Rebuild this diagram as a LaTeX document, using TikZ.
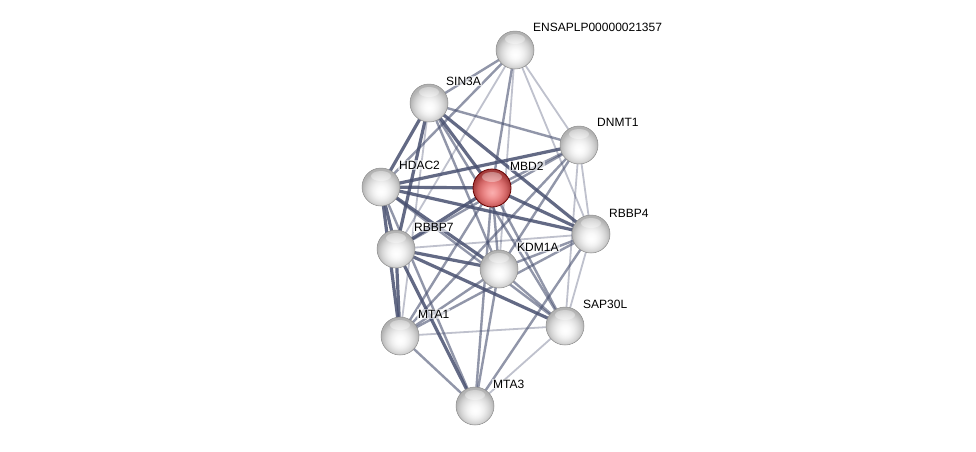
\documentclass[tikz,border=0pt]{standalone}
\usepackage{fontspec}
\setmainfont{Liberation Sans}
\usetikzlibrary{shadings}
\definecolor{edgecol}{RGB}{72,80,112}
\pgfdeclareradialshading{wball}{\pgfpoint{0bp}{-6bp}}{%
  color(0bp)=(white); color(6bp)=(white!98!black); color(11bp)=(white!94!black);
  color(15bp)=(white!89!black); color(19bp)=(white!83!black); color(22bp)=(white!77!black); color(25bp)=(white!70!black); color(50bp)=(white!70!black)}
\pgfdeclareradialshading{rball}{\pgfpoint{0bp}{-6bp}}{%
  color(0bp)=(rgb,255:red,250;green,175;blue,175); color(6bp)=(rgb,255:red,244;green,155;blue,155);
  color(11bp)=(rgb,255:red,234;green,134;blue,134); color(15bp)=(rgb,255:red,222;green,116;blue,116);
  color(19bp)=(rgb,255:red,205;green,97;blue,97); color(22bp)=(rgb,255:red,185;green,78;blue,78); color(25bp)=(rgb,255:red,165;green,60;blue,60); color(50bp)=(rgb,255:red,165;green,60;blue,60)}
\tikzset{
  x=1pt,y=-1pt,
  ball/.style={circle,minimum size=38pt,inner sep=0pt,shading=wball,draw=black!45,line width=0.5pt},
  redball/.style={circle,minimum size=38pt,inner sep=0pt,shading=rball,draw=red!40!black,line width=0.8pt},
  hilite/.style={fill=white,opacity=0.35},
  lab/.style={anchor=west,font=\fontsize{12}{13}\selectfont,inner sep=1pt,text=black,fill=white,fill opacity=0.6,text opacity=1},
  estrong/.style={draw=edgecol,line width=3.2pt,opacity=0.85},
  emed/.style={draw=edgecol,line width=2.4pt,opacity=0.6},
  eweak/.style={draw=edgecol,line width=1.8pt,opacity=0.35},
}
\begin{document}
\begin{tikzpicture}
\useasboundingbox[fill=white] (0,0) rectangle (976,451);
% node positions
\coordinate (pENS) at (515,50);
\coordinate (pSIN) at (429,103);
\coordinate (pDNM) at (579,145);
\coordinate (pHDA) at (381,187);
\coordinate (pMBD) at (492,188);
\coordinate (pRB7) at (396,249);
\coordinate (pRB4) at (591,234);
\coordinate (pKDM) at (499,269);
\coordinate (pMT1) at (400,336);
\coordinate (pSAP) at (565,326);
\coordinate (pMT3) at (475,406);
% edges
\begin{scope}
\path[emed] (pENS) -- (pSIN);
\path[emed] (pENS) -- (pHDA);
\path[emed] (pENS) -- (pMBD);
\path[eweak] (pENS) -- (pKDM);
\path[eweak] (pENS) -- (pDNM);
\path[eweak] (pENS) -- (pRB4);
\path[eweak] (pENS) -- (pRB7);
\path[estrong] (pSIN) -- (pHDA);
\path[estrong] (pSIN) -- (pRB7);
\path[estrong] (pSIN) -- (pMBD);
\path[emed] (pSIN) -- (pDNM);
\path[emed] (pSIN) -- (pKDM);
\path[estrong] (pSIN) -- (pRB4);
\path[emed] (pSIN) -- (pSAP);
\path[eweak] (pSIN) -- (pMT1);
\path[estrong] (pHDA) -- (pMBD);
\path[estrong] (pHDA) -- (pDNM);
\path[estrong] (pHDA) -- (pRB4);
\path[estrong] (pHDA) -- (pRB7);
\path[estrong] (pHDA) -- (pKDM);
\path[estrong] (pHDA) -- (pMT1);
\path[emed] (pHDA) -- (pMT3);
\path[emed] (pHDA) -- (pSAP);
\path[emed] (pMBD) -- (pDNM);
\path[estrong] (pMBD) -- (pRB4);
\path[estrong] (pMBD) -- (pRB7);
\path[emed] (pMBD) -- (pKDM);
\path[emed] (pMBD) -- (pMT1);
\path[emed] (pMBD) -- (pMT3);
\path[emed] (pMBD) -- (pSAP);
\path[eweak] (pDNM) -- (pRB4);
\path[emed] (pDNM) -- (pRB7);
\path[emed] (pDNM) -- (pKDM);
\path[eweak] (pDNM) -- (pSAP);
\path[emed] (pDNM) -- (pMT1);
\path[eweak] (pRB7) -- (pRB4);
\path[estrong] (pRB7) -- (pKDM);
\path[estrong] (pRB7) -- (pMT1);
\path[estrong] (pRB7) -- (pMT3);
\path[estrong] (pRB7) -- (pSAP);
\path[emed] (pRB4) -- (pKDM);
\path[emed] (pRB4) -- (pMT1);
\path[emed] (pRB4) -- (pMT3);
\path[eweak] (pRB4) -- (pSAP);
\path[emed] (pKDM) -- (pMT1);
\path[emed] (pKDM) -- (pMT3);
\path[emed] (pKDM) -- (pSAP);
\path[emed] (pMT1) -- (pMT3);
\path[eweak] (pMT1) -- (pSAP);
\path[eweak] (pMT3) -- (pSAP);
\end{scope}
% nodes
\node[ball] (ENS) at (pENS) {};
\node[ball] (SIN) at (pSIN) {};
\node[ball] (DNM) at (pDNM) {};
\node[ball] (HDA) at (pHDA) {};
\node[redball] (MBD) at (pMBD) {};
\node[ball] (RB7) at (pRB7) {};
\node[ball] (RB4) at (pRB4) {};
\node[ball] (KDM) at (pKDM) {};
\node[ball] (MT1) at (pMT1) {};
\node[ball] (SAP) at (pSAP) {};
\node[ball] (MT3) at (pMT3) {};
% highlights
\foreach \n in {ENS,SIN,DNM,HDA,MBD,RB7,RB4,KDM,MT1,SAP,MT3}{
  \fill[hilite] ([yshift=11pt]\n.center) ellipse (10pt and 5pt);
}
% labels
\node[lab] (lENS) at (532,27) {ENSAPLP00000021357};
\node[lab] (lSIN) at (445,81) {SIN3A};
\node[lab] (lDNM) at (596,122) {DNMT1};
\node[lab] (lHDA) at (398,165) {HDAC2};
\node[lab] (lMBD) at (509,166) {MBD2};
\node[lab] (lRB7) at (413,227) {RBBP7};
\node[lab] (lRB4) at (608,213) {RBBP4};
\node[lab] (lKDM) at (516,247) {KDM1A};
\node[lab] (lSAP) at (582,304) {SAP30L};
\node[lab] (lMT1) at (417,314) {MTA1};
\node[lab] (lMT3) at (492,384) {MTA3};
\end{tikzpicture}
\end{document}
